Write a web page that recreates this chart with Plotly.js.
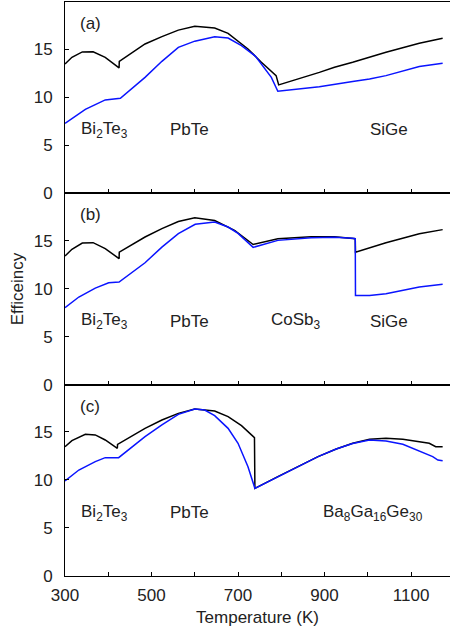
<!DOCTYPE html>
<html>
<head>
<meta charset="utf-8">
<script src="https://cdn.plot.ly/plotly-3.0.1.min.js"></script>
<style>html,body{margin:0;padding:0;background:#fff;}#chart{width:451px;height:633px;}</style>
</head>
<body>
<div id="chart"></div>
<script>
// Panel (a)
var aBlackT = [300, 316, 340, 365, 393, 408, 425, 425.5, 447, 485, 524, 562, 600, 646, 677, 723, 754, 788, 794, 840, 888, 923, 965, 1042, 1119, 1173];
var aBlackV = [13.48, 14.17, 14.73, 14.75, 14.17, 13.65, 13.06, 13.75, 14.4, 15.56, 16.32, 17.0, 17.4, 17.22, 16.67, 15.04, 13.65, 12.26, 11.3, 11.9, 12.6, 13.13, 13.65, 14.69, 15.63, 16.15];
var aBlueT = [300, 347, 370, 393, 428, 485, 524, 562, 600, 646, 677, 708, 740, 754, 777, 792, 888, 965, 1004, 1042, 1081, 1119, 1173];
var aBlueV = [7.29, 8.75, 9.24, 9.73, 9.9, 12.08, 13.75, 15.2, 15.85, 16.32, 16.18, 15.38, 14.3, 13.48, 12.08, 10.63, 11.11, 11.64, 11.91, 12.26, 12.71, 13.2, 13.54];
// Panel (b)
var bBlackT = [300, 316, 340, 365, 393, 408, 425, 425.5, 447, 485, 524, 562, 600, 646, 692, 731, 735, 792, 869, 923, 965, 971, 971.5, 1042, 1119, 1173];
var bBlackV = [13.4, 14.1, 14.75, 14.79, 14.17, 13.65, 13.13, 13.8, 14.4, 15.38, 16.25, 17.0, 17.39, 17.1, 16.07, 14.75, 14.6, 15.2, 15.42, 15.4, 15.25, 15.2, 13.8, 14.79, 15.73, 16.15];
var bBlueT = [300, 332, 370, 401, 425, 485, 524, 562, 601, 646, 677, 700, 735, 792, 869, 923, 965, 971, 971.5, 1004, 1042, 1081, 1119, 1173];
var bBlueV = [8.02, 9.13, 10.06, 10.62, 10.69, 12.7, 14.33, 15.73, 16.7, 16.94, 16.42, 15.75, 14.3, 15.03, 15.31, 15.35, 15.25, 15.2, 9.3, 9.3, 9.48, 9.82, 10.17, 10.45];
// Panel (c)
var cBlackT = [300, 316, 347, 370, 393, 421, 421.5, 447, 485, 524, 562, 600, 646, 677, 708, 738, 739, 792, 831, 885, 927, 965, 1004, 1042, 1081, 1119, 1142, 1157, 1173];
var cBlackV = [13.47, 14.1, 14.76, 14.7, 14.17, 13.3, 13.7, 14.4, 15.38, 16.25, 16.94, 17.4, 17.19, 16.6, 15.66, 14.41, 9.13, 10.35, 11.21, 12.43, 13.23, 13.82, 14.24, 14.34, 14.24, 13.99, 13.82, 13.47, 13.47];
var cBlueT = [300, 332, 370, 393, 424, 485, 524, 562, 600, 623, 646, 677, 700, 723, 739, 792, 831, 885, 927, 965, 1004, 1042, 1081, 1104, 1119, 1135, 1150, 1162, 1173];
var cBlueV = [9.9, 11.04, 11.91, 12.33, 12.33, 14.51, 15.73, 16.84, 17.4, 17.29, 16.7, 15.38, 13.82, 11.39, 9.13, 10.35, 11.21, 12.43, 13.23, 13.8, 14.17, 14.06, 13.72, 13.3, 13.02, 12.67, 12.43, 12.08, 12.0];

var xTickVals = [300, 500, 700, 900, 1100];
var xMinorVals = [400, 600, 800, 1000];
var yTickVals = [0, 5, 10, 15];
var panelLabels = ['(a)', '(b)', '(c)'];
var materialsA = ['Bi<sub>2</sub>Te<sub>3</sub>', 'PbTe', 'SiGe'];
var materialsAT = [332, 588, 1050];
var materialsB = ['Bi<sub>2</sub>Te<sub>3</sub>', 'PbTe', 'CoSb<sub>3</sub>', 'SiGe'];
var materialsBT = [332, 588, 771, 1050];
var materialsC = ['Bi<sub>2</sub>Te<sub>3</sub>', 'PbTe', 'Ba<sub>8</sub>Ga<sub>16</sub>Ge<sub>30</sub>'];
var materialsCT = [332, 588, 891];

var BLUE = '#0a14ff';
var BLACK = '#000000';
function line(x, y, color, xa, ya) {
  return {x: x, y: y, xaxis: xa, yaxis: ya, type: 'scatter', mode: 'lines',
          line: {color: color, width: 1.5}, hoverinfo: 'skip', showlegend: false};
}
var data = [
  line(aBlackT, aBlackV, BLACK, 'x', 'y'),
  line(aBlueT, aBlueV, BLUE, 'x', 'y'),
  line(bBlackT, bBlackV, BLACK, 'x2', 'y2'),
  line(bBlueT, bBlueV, BLUE, 'x2', 'y2'),
  line(cBlackT, cBlackV, BLACK, 'x3', 'y3'),
  line(cBlueT, cBlueV, BLUE, 'x3', 'y3')
];

var FONT = 'Liberation Sans, Arial, sans-serif';
function xax(anchor, showLabels) {
  return {anchor: anchor, range: [300, 1190], showgrid: false, zeroline: false,
          showline: true, mirror: true, linecolor: '#000', linewidth: 1,
          ticks: 'inside', ticklen: 4, tickcolor: '#000',
          tickmode: 'array', tickvals: xTickVals, showticklabels: showLabels,
          minor: {tickmode: 'array', tickvals: xMinorVals, ticks: 'inside', ticklen: 4, tickcolor: '#000', showgrid: false},
          tickfont: {family: FONT, size: 17, color: '#222'}, ticklabelstandoff: 4};
}
function yax(anchor, dom) {
  return {anchor: anchor, domain: dom, range: [0, 19.93], showgrid: false, zeroline: false,
          showline: true, linecolor: '#000', linewidth: 1,
          ticks: 'inside', ticklen: 4, tickcolor: '#000', tickmode: 'array', tickvals: yTickVals,
          tickfont: {family: FONT, size: 17, color: '#222'}, ticklabelstandoff: 8};
}

var annotations = [];
var axes = [['x', 'y'], ['x2', 'y2'], ['x3', 'y3']];
panelLabels.forEach(function (t, i) {
  annotations.push({text: t, x: 358, y: 17.7, xref: axes[i][0], yref: axes[i][1],
    showarrow: false, xanchor: 'center', yanchor: 'middle',
    font: {family: FONT, size: 17, color: '#222'}});
});
function addMaterials(names, ts, i) {
  names.forEach(function (t, k) {
    var anchor = (t === 'PbTe' || t === 'SiGe') ? 'center' : 'left';
    annotations.push({text: t, x: ts[k], y: 6.6, xref: axes[i][0], yref: axes[i][1],
      showarrow: false, xanchor: anchor, yanchor: 'middle',
      font: {family: FONT, size: 17, color: '#222'}});
  });
}
addMaterials(materialsA, materialsAT, 0);
addMaterials(materialsB, materialsBT, 1);
addMaterials(materialsC, materialsCT, 2);
annotations.push({text: 'Efficeincy', xref: 'paper', yref: 'paper', x: -0.124, y: 0.5,
  textangle: -90, showarrow: false, xanchor: 'center', yanchor: 'middle',
  font: {family: FONT, size: 17, color: '#222'}});

var xa3 = xax('y3', true);
xa3.title = {text: 'Temperature (K)', font: {family: FONT, size: 17, color: '#222'}, standoff: 6};

var layout = {
  width: 451, height: 633,
  margin: {l: 65, r: 1, t: 2, b: 57},
  paper_bgcolor: '#fff', plot_bgcolor: '#fff',
  xaxis: xax('y', false),
  xaxis2: xax('y2', false),
  xaxis3: xa3,
  yaxis: yax('x', [2/3, 1]),
  yaxis2: yax('x2', [1/3, 2/3]),
  yaxis3: yax('x3', [0, 1/3]),
  annotations: annotations
};
Plotly.newPlot('chart', data, layout, {displayModeBar: false, staticPlot: true});
</script>
</body>
</html>
